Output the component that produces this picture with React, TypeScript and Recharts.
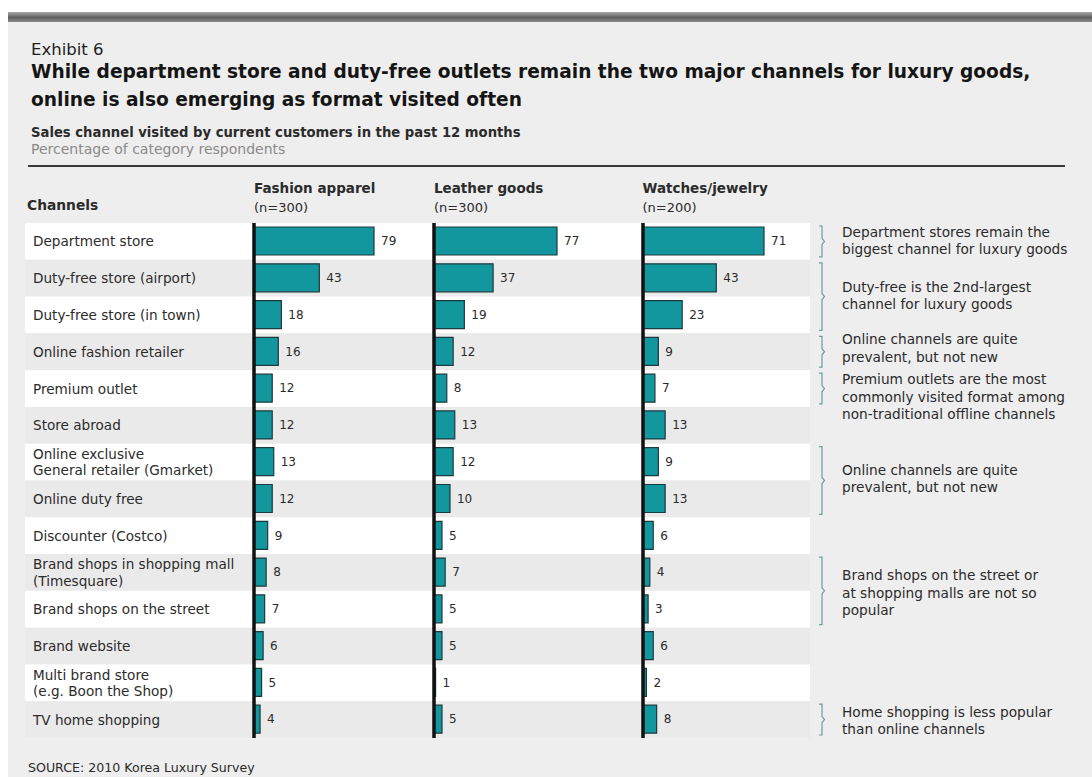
import React from 'react';
import {
  BarChart,
  Bar,
  XAxis,
  YAxis,
  LabelList,
  ReferenceArea,
  ReferenceLine,
} from 'recharts';

const channels = [
  'Department store',
  'Duty-free store (airport)',
  'Duty-free store (in town)',
  'Online fashion retailer',
  'Premium outlet',
  'Store abroad',
  'Online exclusive\nGeneral retailer (Gmarket)',
  'Online duty free',
  'Discounter (Costco)',
  'Brand shops in shopping mall\n(Timesquare)',
  'Brand shops on the street',
  'Brand website',
  'Multi brand store\n(e.g. Boon the Shop)',
  'TV home shopping',
];

const fashionApparel = [79, 43, 18, 16, 12, 12, 13, 12, 9, 8, 7, 6, 5, 4];
const leatherGoods = [77, 37, 19, 12, 8, 13, 12, 10, 5, 7, 5, 5, 1, 5];
const watchesJewelry = [71, 43, 23, 9, 7, 13, 9, 13, 6, 4, 3, 6, 2, 8];

const panelTitles = ['Fashion apparel', 'Leather goods', 'Watches/jewelry'];
const panelSizes = ['(n=300)', '(n=300)', '(n=200)'];

// first row, last row of each bracketed note
const noteRows = [
  [0, 0],
  [1, 2],
  [3, 3],
  [4, 4],
  [6, 7],
  [9, 10],
  [13, 13],
];
const noteTexts = [
  ['Department stores remain the', 'biggest channel for luxury goods'],
  ['Duty-free is the 2nd-largest', 'channel for luxury goods'],
  ['Online channels are quite', 'prevalent, but not new'],
  ['Premium outlets are the most', 'commonly visited format among', 'non-traditional offline channels'],
  ['Online channels are quite', 'prevalent, but not new'],
  ['Brand shops on the street or', 'at shopping malls are not so', 'popular'],
  ['Home shopping is less popular', 'than online channels'],
];

const rows = channels.map((channel, i) => ({
  channel,
  fashion: fashionApparel[i],
  leather: leatherGoods[i],
  watches: watchesJewelry[i],
}));

const FONT = '"DejaVu Sans", Verdana, sans-serif';
const TEXT = '#2b2b2b';
const CHART_H = 777;
const MARGIN_TOP = 223;
const MARGIN_BOTTOM = 39;
// small vertical nudges of the note texts so neighbouring notes don't collide
const NOTE_NUDGE = [-1, -1, -4, 8, -2, 2, 1];

const panels = [
  { key: 'fashion', zero: 254, plotW: 120 },
  { key: 'leather', zero: 434, plotW: 123 },
  { key: 'watches', zero: 642.5, plotW: 121 },
];

const ChannelTick = (props: any) => {
  const { y, payload } = props;
  const lines = String(payload.value).split('\n');
  const lh = 16.5;
  const y0 = y - ((lines.length - 1) * lh) / 2;
  return (
    <text x={33} y={y0} fill={TEXT} fontSize={13.6} fontFamily={FONT} dominantBaseline="central">
      {lines.map((l, i) => (
        <tspan key={i} x={33} y={y0 + i * lh}>
          {l}
        </tspan>
      ))}
    </text>
  );
};

const NoteShape = (props: any) => {
  const { x, y, width, height, lines, nudge } = props;
  const bx = x + width + 12;
  const top = y + 3;
  const bottom = y + height - 3;
  const mid = y + height / 2;
  const lh = 17.5;
  const t0 = mid + nudge - ((lines.length - 1) * lh) / 2;
  return (
    <g>
      <path
        d={`M${bx - 3},${top} L${bx},${top} L${bx},${mid - 3} L${bx + 2.5},${mid} L${bx},${mid + 3} L${bx},${bottom} L${bx - 3},${bottom}`}
        fill="none"
        stroke="#6f9c9c"
        strokeWidth={1.2}
      />
      {lines.map((l: string, i: number) => (
        <text
          key={i}
          x={bx + 20}
          y={t0 + i * lh}
          fill={TEXT}
          fontSize={13.7}
          fontFamily={FONT}
          dominantBaseline="central"
        >
          {l}
        </text>
      ))}
    </g>
  );
};

const abs = (left: number, top: number, extra: React.CSSProperties = {}): React.CSSProperties => ({
  position: 'absolute',
  left,
  top,
  whiteSpace: 'nowrap',
  fontFamily: FONT,
  color: TEXT,
  ...extra,
});

export default function App() {
  return (
    <div style={{ position: 'relative', width: 1092, height: 777, background: '#ffffff', overflow: 'hidden' }}>
      <style>{'body{margin:0}'}</style>
      <div
        style={{
          position: 'absolute',
          left: 8,
          top: 12,
          width: 1084,
          height: 10,
          background: 'linear-gradient(#a8a8a8, #5e5e5e 55%, #8c8c8c)',
        }}
      />
      <div style={{ position: 'absolute', left: 8, top: 22, width: 1084, height: 755, background: '#eeeeee' }} />

      <div style={abs(31, 39, { fontSize: 16.5, lineHeight: '22px', color: '#1e1e1e' })}>Exhibit 6</div>
      <div style={abs(31, 58, { fontSize: 18.6, lineHeight: '28px', fontWeight: 700, color: '#151515' })}>
        While department store and duty-free outlets remain the two major channels for luxury goods,
        <br />
        online is also emerging as format visited often
      </div>
      <div style={abs(31, 125, { fontSize: 13.2, lineHeight: '16px', fontWeight: 700 })}>
        Sales channel visited by current customers in the past 12 months
      </div>
      <div style={abs(31, 141, { fontSize: 14, lineHeight: '16px', color: '#8a8a8a' })}>
        Percentage of category respondents
      </div>
      <div style={{ position: 'absolute', left: 28, top: 165, width: 1037, height: 2, background: '#3a3a3a' }} />

      <div style={abs(27, 197, { fontSize: 13.8, lineHeight: '16px', fontWeight: 700 })}>Channels</div>
      {panels.map((p, i) => (
        <div key={p.key} style={abs(p.zero, 179, { fontSize: 13, lineHeight: '19px' })}>
          <div style={{ fontWeight: 700, fontSize: 13.5 }}>{panelTitles[i]}</div>
          <div>{panelSizes[i]}</div>
        </div>
      ))}

      {/* row stripes and bracketed notes */}
      <div style={{ position: 'absolute', left: 0, top: 0 }}>
        <BarChart
          layout="vertical"
          width={1092}
          height={CHART_H}
          data={rows}
          margin={{ top: MARGIN_TOP, right: 282, bottom: MARGIN_BOTTOM, left: 25 }}
          barCategoryGap={0}
        >
          <XAxis type="number" hide />
          <YAxis type="category" dataKey="channel" hide />
          {rows.map((r, i) => (
            <ReferenceArea
              key={r.channel}
              y1={r.channel}
              y2={r.channel}
              fill={i % 2 === 0 ? '#ffffff' : '#eaeaea'}
              fillOpacity={1}
              stroke="none"
              ifOverflow="visible"
            />
          ))}
          {noteRows.map(([a, b], i) => (
            <ReferenceArea
              key={'note' + i}
              y1={channels[a]}
              y2={channels[b]}
              ifOverflow="visible"
              shape={(sp: any) => <NoteShape {...sp} lines={noteTexts[i]} nudge={NOTE_NUDGE[i]} />}
            />
          ))}
          <Bar dataKey="fashion" fill="transparent" stroke="none" isAnimationActive={false} />
        </BarChart>
      </div>

      {/* channel names */}
      <div style={{ position: 'absolute', left: 0, top: 0 }}>
        <BarChart
          layout="vertical"
          width={250}
          height={CHART_H}
          data={rows}
          margin={{ top: MARGIN_TOP, right: 0, bottom: MARGIN_BOTTOM, left: 0 }}
        >
          <XAxis type="number" hide />
          <YAxis
            type="category"
            dataKey="channel"
            width={240}
            axisLine={false}
            tickLine={false}
            interval={0}
            tick={<ChannelTick />}
          />
          <Bar dataKey="fashion" fill="transparent" stroke="none" isAnimationActive={false} />
        </BarChart>
      </div>

      {panels.map((p) => (
        <div key={p.key} style={{ position: 'absolute', left: p.zero - 2, top: 0 }}>
          <BarChart
            layout="vertical"
            width={p.plotW + 2 + 45}
            height={CHART_H}
            data={rows}
            margin={{ top: MARGIN_TOP, right: 45, bottom: MARGIN_BOTTOM, left: 2 }}
          >
            <XAxis type="number" hide domain={[0, 'dataMax']} />
            <YAxis type="category" dataKey="channel" hide />
            <Bar
              dataKey={p.key}
              fill="#13979e"
              stroke="#1c3a3d"
              strokeWidth={1.2}
              barSize={28}
              isAnimationActive={false}
            >
              <LabelList dataKey={p.key} position="right" offset={7} fill={TEXT} fontSize={12} fontFamily={FONT} />
            </Bar>
            <ReferenceLine x={0} stroke="#111111" strokeWidth={3.5} ifOverflow="visible" />
          </BarChart>
        </div>
      ))}

      <div style={abs(28, 761, { fontSize: 12.6, lineHeight: '14px' })}>SOURCE: 2010 Korea Luxury Survey</div>
    </div>
  );
}
